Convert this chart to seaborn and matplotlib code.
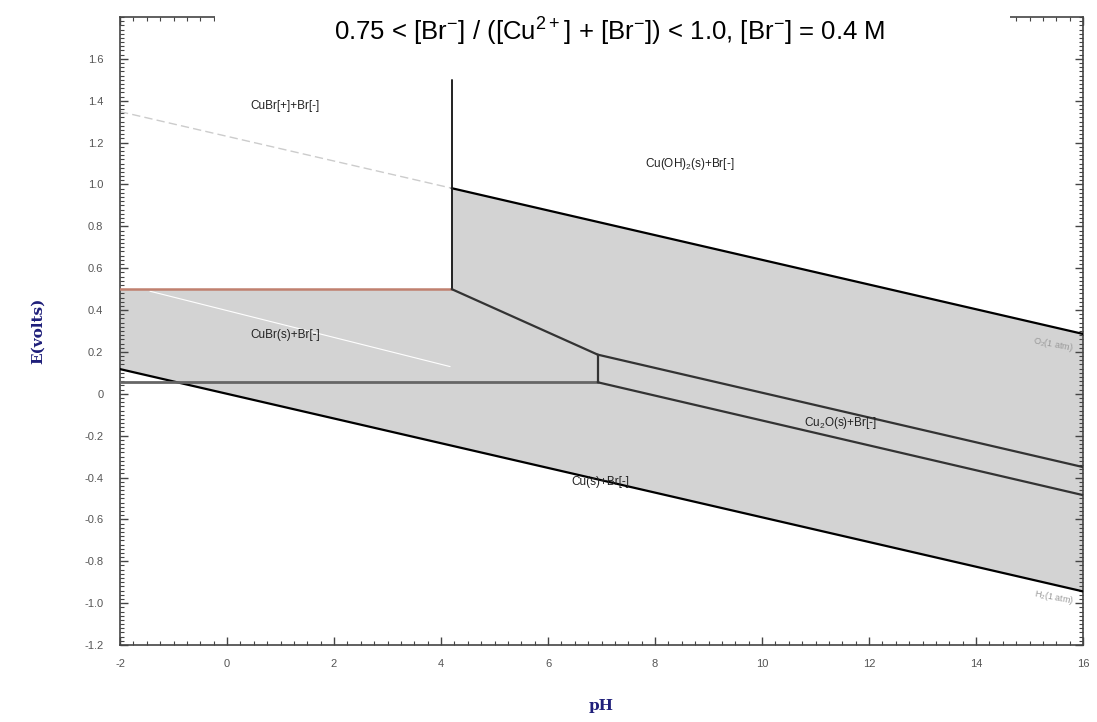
import numpy as np
import pandas as pd
import matplotlib
matplotlib.use("Agg")
import matplotlib.pyplot as plt
import seaborn as sns
from matplotlib.ticker import MultipleLocator, FuncFormatter
from matplotlib.patches import Rectangle

# ---------------- data ----------------
ph_water = [-2.0, 16.0]
E_O2 = [1.348, 0.286]          # O2(1 atm) line
E_H2 = [0.118, -0.944]         # H2(1 atm) line

ph_cubr_top = [-2.0, 4.2]      # CuBr[+] / CuBr(s) boundary
E_cubr_top = [0.50, 0.50]

ph_vert1 = [4.2, 4.2]          # CuBr[+] / Cu(OH)2 boundary
E_vert1 = [0.50, 1.50]

ph_cubr_cuoh = [4.2, 6.93]     # CuBr(s) / Cu(OH)2 boundary
E_cubr_cuoh = [0.50, 0.187]

ph_cubr_cu = [-2.0, 6.93]      # CuBr(s) / Cu(s) boundary
E_cubr_cu = [0.055, 0.055]

ph_vert2 = [6.93, 6.93]        # CuBr(s) / Cu2O boundary
E_vert2 = [0.055, 0.187]

ph_cu2o_top = [6.93, 16.0]     # Cu2O / Cu(OH)2
E_cu2o_top = [0.187, -0.35]

ph_cu2o_bot = [6.93, 16.0]     # Cu / Cu2O
E_cu2o_bot = [0.055, -0.484]

ph_faint = [-1.44, 4.17]       # faint white line in CuBr(s) field
E_faint = [0.49, 0.13]

labels = ["CuBr[+]+Br[-]", "Cu(OH)$_2$(s)+Br[-]", "CuBr(s)+Br[-]",
          "Cu$_2$O(s)+Br[-]", "Cu(s)+Br[-]"]
label_ph = [1.08, 8.65, 1.08, 11.46, 6.97]
label_E = [1.377, 1.10, 0.28, -0.14, -0.42]

x_ticks = [-2, 0, 2, 4, 6, 8, 10, 12, 14, 16]
y_ticks = [-1.2, -1.0, -0.8, -0.6, -0.4, -0.2, 0.0, 0.2, 0.4, 0.6, 0.8, 1.0, 1.2, 1.4, 1.6]

title = (r"0.75 < [Br$^{-}$] / ([Cu$^{2+}$] + [Br$^{-}$]) < 1.0, "
         r"[Br$^{-}$] = 0.4 M")

# ---------------- figure ----------------
sns.set_style("ticks")
plt.rcParams['font.family'] = ['Liberation Sans', 'DejaVu Sans']
plt.rcParams['mathtext.fontset'] = 'custom'
plt.rcParams['mathtext.rm'] = 'Liberation Sans'

fig = plt.figure(figsize=(10.97, 7.22), dpi=100)
ax = fig.add_axes([120/1097, 77/722, (1083-120)/1097, (645-17)/722])

# gray stability region
fill_x = [ph_cubr_top[0], ph_cubr_top[1], ph_vert1[0], ph_water[1], ph_water[1], ph_water[0]]
fill_y = [E_cubr_top[0], E_cubr_top[1],
          np.interp(ph_vert1[0], ph_water, E_O2), E_O2[1], E_H2[1], E_H2[0]]
ax.fill(fill_x, fill_y, color="#d3d3d3", zorder=0, lw=0)

def seg(xs, ys, **kw):
    df = pd.DataFrame({"pH": xs, "E": ys})
    sns.lineplot(data=df, x="pH", y="E", ax=ax, sort=False, estimator=None, **kw)

# faint dashed O2 extension (left of 4.2)
seg([ph_water[0], ph_vert1[0]], [E_O2[0], np.interp(ph_vert1[0], ph_water, E_O2)],
    color="#cccccc", lw=1.0, linestyle=(0, (6, 3)), zorder=1)
seg(ph_faint, E_faint, color="white", lw=0.8, zorder=1)

# O2 line (solid part) and H2 line
seg([ph_vert1[0], ph_water[1]], [np.interp(ph_vert1[0], ph_water, E_O2), E_O2[1]],
    color="black", lw=1.6, zorder=3)
seg(ph_water, E_H2, color="black", lw=1.6, zorder=3)

seg(ph_cubr_top, E_cubr_top, color="#c0806f", lw=1.8, zorder=3)
seg(ph_vert1, E_vert1, color="#222222", lw=1.4, zorder=3)
seg(ph_cubr_cuoh, E_cubr_cuoh, color="#333333", lw=1.6, zorder=3)
seg(ph_cubr_cu, E_cubr_cu, color="#666666", lw=2.0, zorder=3)
seg(ph_vert2, E_vert2, color="#333333", lw=1.6, zorder=3)
seg(ph_cu2o_top, E_cu2o_top, color="#333333", lw=1.6, zorder=3)
seg(ph_cu2o_bot, E_cu2o_bot, color="#333333", lw=1.6, zorder=3)

for t, x, y in zip(labels, label_ph, label_E):
    ax.text(x, y, t, ha="center", va="center", fontsize=8.5, color="#222222", zorder=4)

ax.text(15.45, 0.235, "O$_2$(1 atm)", ha="center", va="center", fontsize=6.5,
        color="#999999", rotation=-11, zorder=4)
ax.text(15.45, -0.975, "H$_2$(1 atm)", ha="center", va="center", fontsize=6.5,
        color="#999999", rotation=-11, zorder=4)

ax.set_xlim(-2, 16)
ax.set_ylim(-1.2, 1.8)
ax.set_xticks(x_ticks)
ax.set_yticks(y_ticks)
ax.xaxis.set_minor_locator(MultipleLocator(0.25))
ax.yaxis.set_minor_locator(MultipleLocator(0.02))
ax.yaxis.set_major_formatter(FuncFormatter(lambda v, p: "0" if abs(v) < 1e-9 else f"{v:.1f}"))
ax.xaxis.set_major_formatter(FuncFormatter(lambda v, p: f"{v:.0f}"))
ax.tick_params(which="both", direction="in", top=True, right=True, colors="#444444",
               labelcolor="#555555", labelsize=8)
ax.tick_params(which="major", length=6, width=1)
ax.tick_params(which="minor", length=3, width=0.8)
ax.tick_params(axis="x", pad=10)
ax.tick_params(axis="y", pad=12)
for s in ax.spines.values():
    s.set_color("#444444")
    s.set_linewidth(1.2)

ax.set_xlabel("pH", fontfamily="DejaVu Serif", fontweight="bold", fontsize=11,
              color="#1f1f7a", labelpad=22)
ax.set_ylabel("E(volts)", fontfamily="DejaVu Serif", fontweight="bold", fontsize=11,
              color="#1f1f7a", labelpad=28)

# white title band covering the middle of the top frame
fig.patches.append(Rectangle((215/1097, 1 - 52/722), (1010-215)/1097, 52/722,
                             transform=fig.transFigure, facecolor="white",
                             edgecolor="none", zorder=5))
fig.text(610/1097, 1 - 31/722, title, ha="center", va="center", fontsize=18.5,
         color="black", zorder=10)

fig.savefig("out.png", dpi=100)
